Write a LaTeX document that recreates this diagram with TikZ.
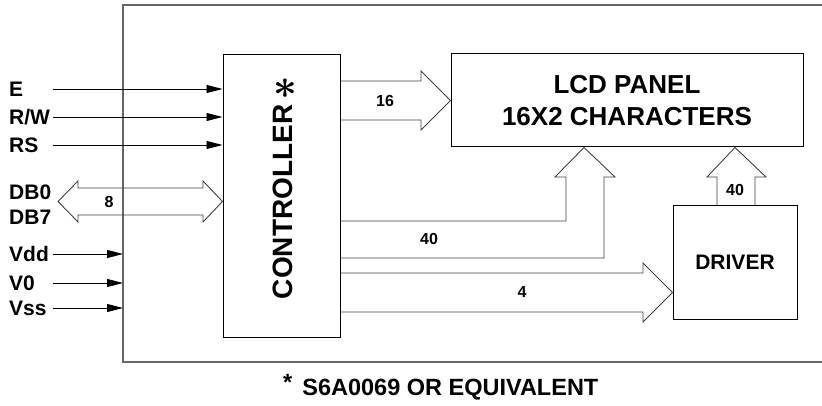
\documentclass[tikz,border=0pt]{standalone}
\usepackage{fontspec}
\setmainfont{Liberation Sans}
\usetikzlibrary{arrows.meta}
\tikzset{
box/.style={draw, line width=1pt, inner sep=0pt},
sig/.style={draw, line width=0.9pt, -{Triangle[length=16pt,width=8pt]}},
bus/.style={draw=black!75, line width=0.9pt},
lbl/.style={font=\fontsize{21}{25}\selectfont\bfseries, anchor=west, inner sep=0pt},
num/.style={font=\fontsize{16}{19}\selectfont\bfseries, inner sep=0pt}
}
\begin{document}
\begin{tikzpicture}[x=1pt, y=-1pt]
\useasboundingbox (0,0) rectangle (822,406);
\draw[black!60, line width=1.4pt] (822,5) -- (123,5) -- (123,362) -- (822,362);
\coordinate (fl) at (123,5);
\node[box, minimum width=117pt, minimum height=282pt] (ctrl) at (281.5,196) {};
\node[rotate=90, inner sep=0pt, font=\fontsize{28}{32}\selectfont\bfseries] (ctrltxt) at (283,202) {CONTROLLER};
\node[inner sep=0pt, font=\fontsize{20}{20}\selectfont] (star) at (285,89) {\scalebox{2}{\boldmath$\ast$}};
\node[box, minimum width=352pt, minimum height=93pt, align=center,
      font=\fontsize{26}{31.5}\selectfont\bfseries] (lcd) at (627,100.5) {LCD PANEL\\16X2 CHARACTERS};
\node[box, minimum width=124pt, minimum height=113pt,
      font=\fontsize{21}{25}\selectfont\bfseries] (drv) at (735,262.5) {DRIVER};

\node[lbl] (e) at (9,89) {E};
\node[lbl] (rw) at (9,117) {R/W};
\node[lbl] (rs) at (9,145) {RS};
\node[lbl] (db0) at (9,192) {DB0};
\node[lbl] (db7) at (9,217) {DB7};
\node[lbl] (vdd) at (9,254) {Vdd};
\node[lbl] (vo) at (9,283) {V0};
\node[lbl] (vss) at (9,308) {Vss};
\draw[sig] (53,89) coordinate (e in) -- (e in -| ctrl.west);
\draw[sig] (53,117) coordinate (rw in) -- (rw in -| ctrl.west);
\draw[sig] (53,145) coordinate (rs in) -- (rs in -| ctrl.west);
\draw[sig] (53,254) coordinate (vdd in) -- (vdd in -| fl);
\draw[sig] (53,283) coordinate (vo in) -- (vo in -| fl);
\draw[sig] (53,308) coordinate (vss in) -- (vss in -| fl);

\draw[bus] (58,201.5) coordinate (db in) -- (78,181) -- (78,188) -- (203,188) -- (203,181) --
      (db in -| ctrl.west) -- (203,222) -- (203,215) -- (78,215) -- (78,222) -- cycle;
\draw[bus] (ctrl.east |- 0,81) -- (421,81) -- (421,71) -- (lcd.west) --
      (421,130) -- (421,120) -- (ctrl.east |- 0,120);
\draw[bus] (ctrl.east |- 0,221) -- (566,221) -- (566,177) -- (555,177) -- (584,0 |- lcd.south) --
      (615,177) -- (604,177) -- (604,258) -- (ctrl.east |- 0,258);
\draw[bus] (ctrl.east |- 0,273) -- (643,273) -- (643,263) -- (drv.west |- 0,292.5) --
      (643,322) -- (643,312) -- (ctrl.east |- 0,312);
\draw[bus] (717,0 |- drv.north) -- (717,177) -- (707,177) -- (drv.north |- lcd.south) --
      (766,177) -- (755,177) -- (755,0 |- drv.north);

\node[num] (n8) at (109,202) {8};
\node[num] (n16) at (385,101) {16};
\node[num] (n40a) at (429,239) {40};
\node[num] (n4) at (522,292) {4};
\node[num] (n40b) at (735,190) {40};

\node[anchor=base west, inner sep=0pt, font=\fontsize{23.5}{28}\selectfont\bfseries] (note)
      at (283,395) {\raisebox{5pt}{*}\hspace{10pt}S6A0069 OR EQUIVALENT};
\end{tikzpicture}
\end{document}
